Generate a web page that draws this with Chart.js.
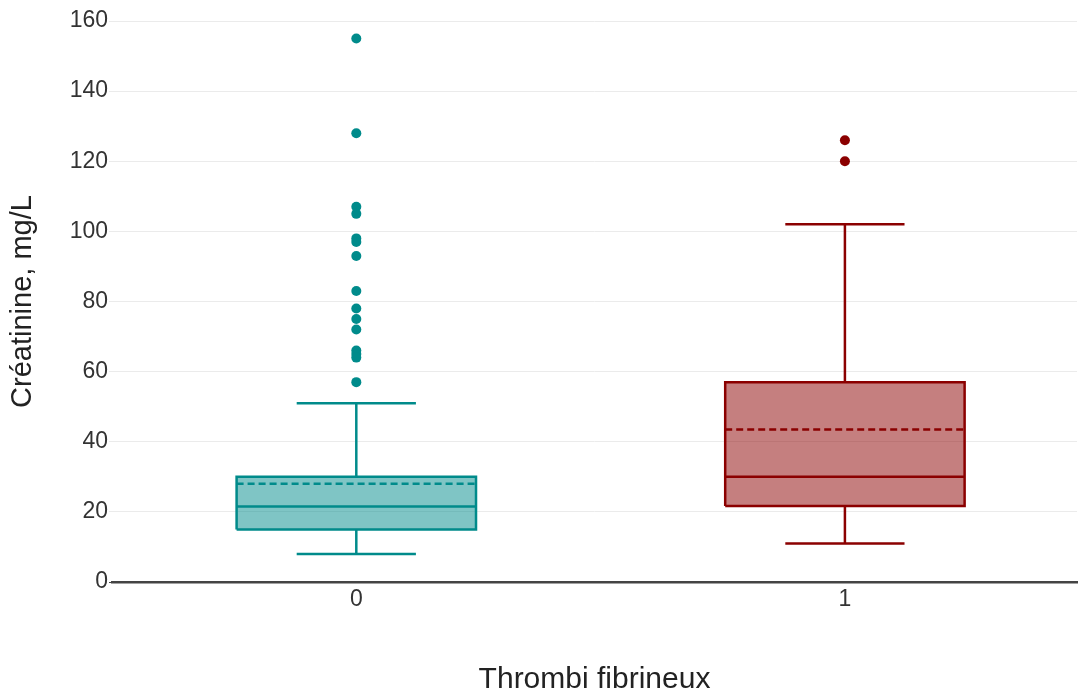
<!DOCTYPE html>
<html>
<head>
<meta charset="utf-8">
<title>Créatinine / Thrombi fibrineux</title>
<script src="https://cdn.jsdelivr.net/npm/chart.js@4.4.1/dist/chart.umd.min.js"></script>
<style>
  html, body { margin: 0; padding: 0; background: #fff; }
  #wrap { width: 1082px; height: 695px; }
</style>
</head>
<body>
<div id="wrap"><canvas id="boxChart"></canvas></div>

<script>
// groups (x categories) and box statistics
var groups = ["0", "1"];
var whiskerLow  = [8, 11];
var q1          = [15, 21.7];
var median      = [21.5, 30];
var q3          = [30, 57];
var whiskerHigh = [51, 102];
var means       = [28, 43.5];
var outliers = [
  [155, 128, 107, 105, 98, 97, 93, 83, 78, 75, 72, 66, 65, 64, 57],
  [126, 120]
];
var yTicks = [0, 20, 40, 60, 80, 100, 120, 140, 160];

var lineColor = ["#008b8b", "#8b0000"];
var fillColor = ["rgba(0,139,139,0.5)", "rgba(139,0,0,0.5)"];

var halfBox = 0.245, halfCap = 0.122;
var fontFam = 'Liberation Sans, Arial, sans-serif';

function seg(color, pts, extra) {
  var ds = {
    type: 'line',
    data: pts,
    borderColor: color,
    borderWidth: 2.5,
    pointRadius: 0,
    fill: false,
    spanGaps: false,
    tension: 0
  };
  for (var k in extra) ds[k] = extra[k];
  return ds;
}

var datasets = [];
groups.forEach(function (g, i) {
  var c = i, l = c - halfBox, r = c + halfBox;
  // outliers
  datasets.push({
    type: 'scatter',
    data: outliers[i].map(function (v) { return {x: c, y: v}; }),
    backgroundColor: lineColor[i],
    borderWidth: 0,
    pointRadius: 5,
    order: 0
  });
  // box outline
  datasets.push(seg(lineColor[i], [
    {x: l, y: q1[i]}, {x: r, y: q1[i]}, {x: r, y: q3[i]}, {x: l, y: q3[i]}, {x: l, y: q1[i]}
  ], {order: 1}));
  // median
  datasets.push(seg(lineColor[i], [{x: l, y: median[i]}, {x: r, y: median[i]}], {order: 1}));
  // mean (dashed)
  datasets.push(seg(lineColor[i], [{x: l, y: means[i]}, {x: r, y: means[i]}], {order: 1, borderDash: [7, 4]}));
  // whiskers and caps
  datasets.push(seg(lineColor[i], [
    {x: c, y: q3[i]}, {x: c, y: whiskerHigh[i]}, {x: c, y: null},
    {x: c - halfCap, y: whiskerHigh[i]}, {x: c + halfCap, y: whiskerHigh[i]}, {x: c, y: null},
    {x: c, y: q1[i]}, {x: c, y: whiskerLow[i]}, {x: c, y: null},
    {x: c - halfCap, y: whiskerLow[i]}, {x: c + halfCap, y: whiskerLow[i]}
  ], {order: 1}));
  // box fill: top edge filled down to the bottom edge (next dataset)
  datasets.push(seg('rgba(0,0,0,0)', [{x: l, y: q3[i]}, {x: r, y: q3[i]}],
    {order: 2, borderWidth: 0, fill: '+1', backgroundColor: fillColor[i]}));
  datasets.push(seg('rgba(0,0,0,0)', [{x: l, y: q1[i]}, {x: r, y: q1[i]}],
    {order: 2, borderWidth: 0}));
});

new Chart(document.getElementById("boxChart").getContext("2d"), {
  type: 'line',
  data: { datasets: datasets },
  options: {
    responsive: true,
    maintainAspectRatio: false,
    animation: false,
    events: [],
    layout: { padding: { top: 21, right: 0, left: 0, bottom: 0 } },
    plugins: { legend: { display: false }, tooltip: { enabled: false } },
    scales: {
      x: {
        type: 'linear',
        min: -0.5,
        max: 1.475,
        afterBuildTicks: function (s) { s.ticks = groups.map(function (g, i) { return {value: i}; }); },
        afterFit: function (s) { s.height = 113; },
        grid: { display: false, drawTicks: false },
        border: { display: true, color: '#444', width: 2.5 },
        ticks: {
          color: '#333',
          padding: 4,
          font: { family: fontFam, size: 23 },
          callback: function (v) { return groups[v]; }
        },
        title: {
          display: true,
          text: 'Thrombi fibrineux',
          color: '#222',
          padding: { top: 0, bottom: 0 },
          font: { family: fontFam, size: 30, lineHeight: 1.0 }
        }
      },
      y: {
        min: 0,
        max: 160,
        afterBuildTicks: function (s) { s.ticks = yTicks.map(function (v) { return {value: v}; }); },
        afterFit: function (s) { s.width = 112; },
        border: { display: false },
        grid: {
          color: function (ctx) { return ctx.tick && ctx.tick.value === 0 ? '#444' : '#ebebeb'; },
          lineWidth: 1,
          tickLength: 3
        },
        ticks: {
          color: '#333',
          padding: 1,
          font: { family: fontFam, size: 23 }
        },
        title: {
          display: true,
          text: 'Créatinine, mg/L',
          color: '#222',
          padding: { top: 8, bottom: 0 },
          font: { family: fontFam, size: 29, lineHeight: 1.0 }
        }
      }
    }
  }
});
</script>
</body>
</html>
